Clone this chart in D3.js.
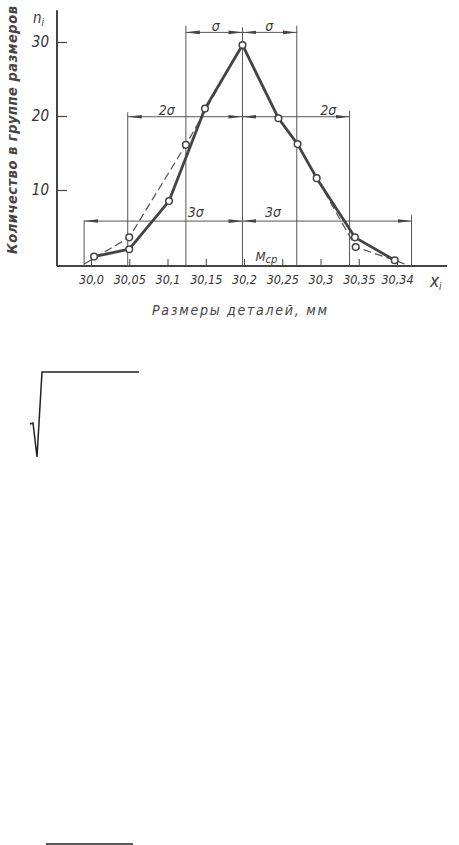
<!DOCTYPE html>
<html><head><meta charset="utf-8">
<script src="https://cdn.jsdelivr.net/npm/d3@7"></script>
<style>
html,body{margin:0;padding:0;background:#fff;}
svg text{font-family:"DejaVu Sans Condensed","DejaVu Sans",sans-serif;font-style:italic;fill:#3a3a3a;}
</style></head>
<body>
<svg id="c" width="459" height="845"></svg>
<script>
// Tick labels along the size axis (as printed, incl. the "30,34" misprint)
const tickValues = [30.0, 30.05, 30.1, 30.15, 30.2, 30.25, 30.3, 30.35, 30.4];
const tickLabels = ["30,0","30,05","30,1","30,15","30,2","30,25","30,3","30,35","30,34"];
const yTicks = [10, 20, 30];
// Empirical distribution (solid line with circles)
const empX = [30.004, 30.05, 30.102, 30.149, 30.198, 30.245, 30.27, 30.295, 30.345, 30.397];
const empN = [1, 2, 8.5, 21, 29.6, 19.7, 16.2, 11.6, 3.6, 0.5];
// Theoretical distribution (dashed line)
const thX = [29.991, 30.05, 30.124, 30.198, 30.245, 30.27, 30.346, 30.397, 30.41];
const thN = [0, 3.6, 16.1, 29.6, 19.7, 16.2, 2.3, 0.5, 0];
const thCircles = [1, 2, 6];
// Sigma guide lines: position, top level
const sigmaPos = [29.991, 30.048, 30.124, 30.198, 30.269, 30.338, 30.419];
const sigmaTopN = [5.9, 20.5, 32.2, 32.0, 32.2, 20.7, 6.6];
const dimLevels = [{n:31.3, l:30.124, r:30.269},
                   {n:19.9, l:30.048, r:30.338},
                   {n:5.8,  l:29.991, r:30.419}];

const svg = d3.select("#c");
const x = d3.scaleLinear().domain([30.0, 30.4]).range([91, 397]);
const y = d3.scaleLinear().domain([0, 30]).range([264, 42]);
const ink = "#444";
const base = y(0) + 2;

// arrow marker
const defs = svg.append("defs");
defs.append("marker").attr("id","arr").attr("viewBox","0 0 14 6")
  .attr("refX",14).attr("refY",3).attr("markerWidth",14).attr("markerHeight",6)
  .attr("markerUnits","userSpaceOnUse").attr("orient","auto-start-reverse")
  .append("path").attr("d","M0,1.2 L14,3 L0,4.8 Z").attr("fill",ink);

// axes lines
const xMin = x.invert(57), xMax = x.invert(447);
svg.append("line").attr("x1",x(xMin)).attr("x2",x(xMin)).attr("y1",y(34.3)).attr("y2",base)
  .attr("stroke",ink).attr("stroke-width",2);
svg.append("line").attr("x1",x(xMin)).attr("x2",x(xMax)).attr("y1",base).attr("y2",base)
  .attr("stroke",ink).attr("stroke-width",2);

// x axis ticks & labels
const xAxis = d3.axisBottom(x).tickValues(tickValues)
  .tickFormat((d,i)=>tickLabels[i]).tickSize(-7).tickPadding(9);
const gx = svg.append("g").attr("transform",`translate(0,${base})`).call(xAxis);
gx.select(".domain").remove();
gx.selectAll(".tick line").attr("stroke",ink).attr("stroke-width",1);
gx.selectAll(".tick text").attr("font-size",12.5).attr("font-family",null).style("fill","#333");

// y axis ticks & labels
const yAxis = d3.axisLeft(y).tickValues(yTicks).tickSize(-10).tickPadding(8);
const gy = svg.append("g").attr("transform",`translate(${x(xMin)},0)`).call(yAxis);
gy.select(".domain").remove();
gy.selectAll(".tick line").attr("stroke",ink).attr("stroke-width",1.2);
gy.selectAll(".tick text").attr("font-size",15).attr("font-family",null).style("fill","#333");

// sigma vertical guides
svg.append("g").selectAll("line").data(sigmaPos).join("line")
  .attr("x1",d=>x(d)).attr("x2",d=>x(d))
  .attr("y1",(d,i)=>y(sigmaTopN[i])).attr("y2",base)
  .attr("stroke","#555").attr("stroke-width",1);

// dimension lines
const mean = sigmaPos[3];
dimLevels.forEach(dl=>{
  [[dl.l, mean],[mean, dl.r]].forEach(([a,b])=>{
    svg.append("line").attr("x1",x(a)).attr("x2",x(b)).attr("y1",y(dl.n)).attr("y2",y(dl.n))
      .attr("stroke","#555").attr("stroke-width",1)
      .attr("marker-start","url(#arr)").attr("marker-end","url(#arr)");
  });
});

// dimension labels
const dimLabels = [
  {v:30.163, n:31.5, t:"σ"}, {v:30.233, n:31.5, t:"σ"},
  {v:30.099, n:20.1, t:"2σ"}, {v:30.31, n:20.1, t:"2σ"},
  {v:30.137, n:6.3, t:"3σ"}, {v:30.238, n:6.3, t:"3σ"}];
svg.append("g").selectAll("text").data(dimLabels).join("text")
  .attr("x",d=>x(d.v)).attr("y",d=>y(d.n)).attr("text-anchor","middle")
  .attr("font-size",14).text(d=>d.t);

// theoretical dashed line
const line = d3.line().x(d=>x(d[0])).y(d=>y(d[1]));
svg.append("path").datum(thX.map((v,i)=>[v,thN[i]])).attr("d",line)
  .attr("fill","none").attr("stroke","#555").attr("stroke-width",1.2).attr("stroke-dasharray","8,4");

// empirical solid line
svg.append("path").datum(empX.map((v,i)=>[v,empN[i]])).attr("d",line)
  .attr("fill","none").attr("stroke","#444").attr("stroke-width",2.8).attr("stroke-linejoin","round");

// circles
svg.append("g").selectAll("circle").data(thCircles).join("circle")
  .attr("cx",i=>x(thX[i])).attr("cy",i=>y(thN[i])).attr("r",3.3)
  .attr("fill","#fff").attr("stroke","#444").attr("stroke-width",1.5);
svg.append("g").selectAll("circle").data(empX).join("circle")
  .attr("cx",d=>x(d)).attr("cy",(d,i)=>y(empN[i])).attr("r",3.3)
  .attr("fill","#fff").attr("stroke","#444").attr("stroke-width",1.5);

// labels
const ny = svg.append("text").attr("x",33).attr("y",23).attr("font-size",15);
ny.append("tspan").text("n");
ny.append("tspan").attr("font-size",10).attr("dy",3).text("i");

const xl = svg.append("text").attr("x",430).attr("y",287).attr("font-size",17);
xl.append("tspan").text("x");
xl.append("tspan").attr("font-size",10).attr("dy",3).text("i");

const mc = svg.append("text").attr("x",x(30.215)).attr("y",261).attr("font-size",13);
mc.append("tspan").text("M");
mc.append("tspan").attr("font-size",11).attr("dy",2).text("ср");

svg.append("text").attr("transform","translate(17,130) rotate(-90)")
  .attr("text-anchor","middle").attr("font-size",14.5).attr("font-weight","bold")
  .attr("textLength",248).attr("lengthAdjust","spacing")
  .style("fill","#444").text("Количество в группе размеров");

svg.append("text").attr("x",152).attr("y",315).attr("font-size",14)
  .attr("textLength",175).attr("lengthAdjust","spacing")
  .style("fill","#444").text("Размеры деталей, мм");

// radical sign and fraction bar (page fragments)
svg.append("path").attr("d","M30,424 L33,423 L37,457 L42,372 L139,372")
  .attr("fill","none").attr("stroke","#222").attr("stroke-width",1.5);
svg.append("line").attr("x1",46).attr("x2",133).attr("y1",844).attr("y2",844)
  .attr("stroke","#222").attr("stroke-width",1.5);
</script>
</body></html>
